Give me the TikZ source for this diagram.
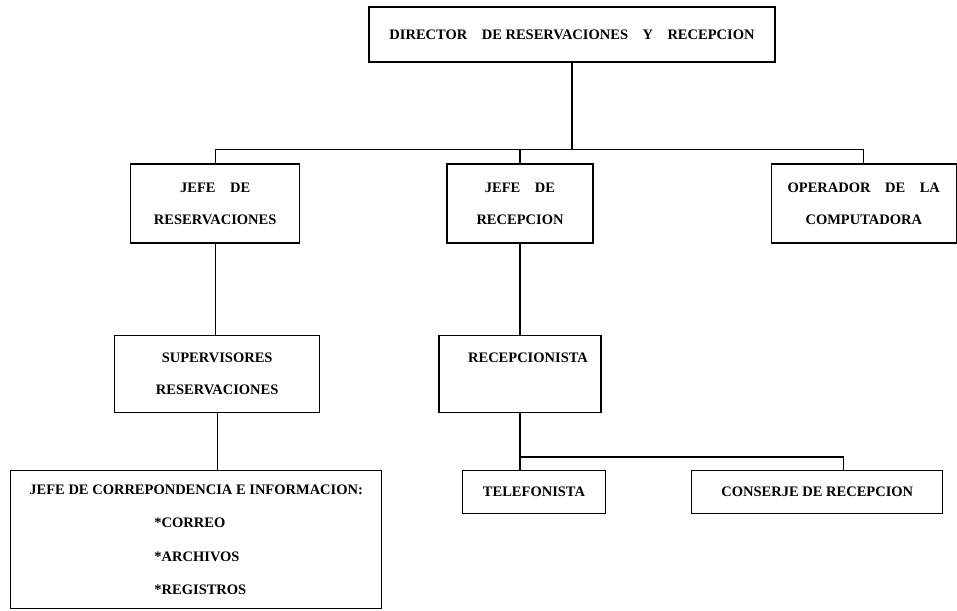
\documentclass[tikz,border=0pt]{standalone}
\usepackage{fontspec}
\setmainfont{Liberation Serif}
\usepackage{tikz}
\usetikzlibrary{positioning}
\tikzstyle{unit} = [rectangle, draw=black, line width=1.3pt, fill=none, text=black, align=center, font=\fontsize{14.5}{32}\selectfont\bfseries, inner sep=0pt]
\tikzstyle{link} = [draw, line width=1.3pt]

\begin{document}
\begin{tikzpicture}[x=1pt, y=-1pt]
\useasboundingbox (0,0) rectangle (957,610);

% boxes =============================
\node[unit, minimum width=406pt, minimum height=55pt] (dir) at (572,34.5) {DIRECTOR\quad DE RESERVACIONES\quad Y\quad RECEPCION};
\node[unit, minimum width=146pt, minimum height=79pt] (jrec) at (520,203.5) {JEFE\quad DE\\RECEPCION};
\node[unit, minimum width=169pt, minimum height=79pt, left=146pt of jrec] (jres) {JEFE\quad DE\\RESERVACIONES};
\node[unit, minimum width=185pt, minimum height=79pt, right=177pt of jrec] (oper) {OPERADOR\quad DE\quad LA\\COMPUTADORA};
\node[unit, minimum width=162pt, minimum height=77pt, below=91pt of jrec] (recep) {\hspace*{16pt}RECEPCIONISTA\\\mbox{}};
\node[unit, minimum width=205pt, minimum height=77pt, left=118pt of recep] (sup) {SUPERVISORES\\RESERVACIONES};
\node[unit, minimum width=143pt, minimum height=43pt, below=57pt of recep, xshift=14pt] (tel) {TELEFONISTA};
\node[unit, minimum width=251pt, minimum height=43pt, right=85pt of tel] (cons) {CONSERJE DE RECEPCION};
\node[unit, minimum width=371pt, minimum height=138pt, below=57pt of sup, xshift=-21pt, align=left, font=\fontsize{14.5}{33.5}\selectfont\bfseries] (corr) {JEFE DE CORREPONDENCIA E INFORMACION:\\\hspace*{125pt}*CORREO\\\hspace*{125pt}*ARCHIVOS\\\hspace*{125pt}*REGISTROS};

% edges
\path[link] (dir.south) -- ++(0,87) coordinate (bus);
\path[link] (jres.north) |- (bus) -| (oper.north);
\path[link] (jrec.north) -- (jrec.north |- bus);
\path[link] (jres.south) -- (jres.south |- sup.north);
\path[link] (jrec.south) -- (recep.north);
\path[link] (sup.south) -- (sup.south |- corr.north);
\path[link] (recep.south) -- (recep.south |- tel.north);
\path[link] (recep.south) ++(0,44) coordinate (tbus) -| ([xshift=26pt]cons.north);

\end{tikzpicture}
\end{document}
